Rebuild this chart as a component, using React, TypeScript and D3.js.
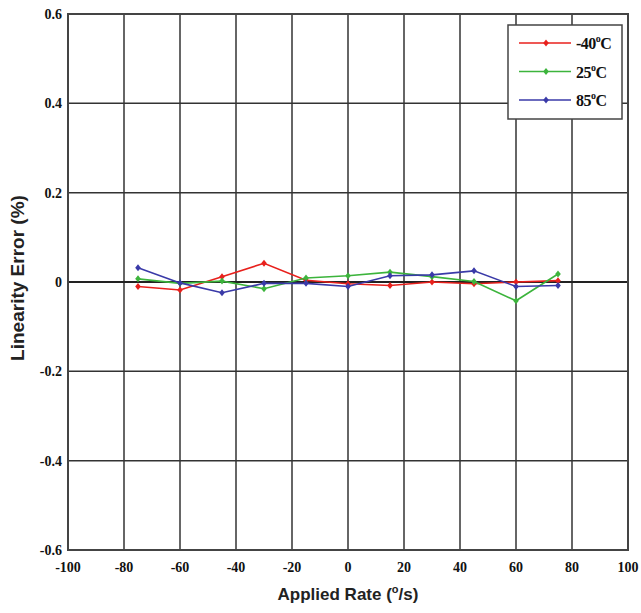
import React from "react";
import * as d3 from "d3";

const rates = [-75, -60, -45, -30, -15, 0, 15, 30, 45, 60, 75];
const errM40 = [-0.01, -0.018, 0.012, 0.042, 0.004, -0.004, -0.008, 0.0, -0.004, 0.0, 0.003];
const err25 = [0.007, -0.003, 0.002, -0.015, 0.009, 0.014, 0.022, 0.012, 0.001, -0.042, 0.018];
const err85 = [0.032, -0.002, -0.024, -0.003, -0.003, -0.01, 0.014, 0.016, 0.025, -0.01, -0.008];
const seriesNames = ["-40", "25", "85"];
const seriesColors = ["#e8201c", "#3cb43c", "#3a3aa8"];
const xTicks = [-100, -80, -60, -40, -20, 0, 20, 40, 60, 80, 100];
const yTicks = [-0.6, -0.4, -0.2, 0, 0.2, 0.4, 0.6];

const W = 641, H = 613;
const M = { left: 68, right: 628, top: 14, bottom: 550 };

export default function App() {
  const x = d3.scaleLinear().domain([-100, 100]).range([M.left, M.right]);
  const y = d3.scaleLinear().domain([-0.6, 0.6]).range([M.bottom, M.top]);
  const line = d3.line<[number, number]>().x((d) => x(d[0])).y((d) => y(d[1]));
  const allSeries = [errM40, err25, err85];
  const diamond = (cx: number, cy: number, r = 3.5) =>
    `M${cx},${cy - r}L${cx + r * 0.8},${cy}L${cx},${cy + r}L${cx - r * 0.8},${cy}Z`;
  const tickFont = "'Liberation Serif', 'Times New Roman', serif";
  const titleFont = "'Liberation Sans Narrow', 'Arial Narrow', 'Liberation Sans', Arial, sans-serif";
  const fmtY = (v: number) => (Math.abs(v) < 1e-9 ? "0" : v.toFixed(1));
  const legX = 508, legY = 25, legW = 114, legH = 94;
  return (
    <svg width={W} height={H} style={{ position: "absolute", left: 0, top: 0, background: "#fff" }}>
      {xTicks.map((t) => (
        <line key={"gx" + t} x1={x(t)} x2={x(t)} y1={M.top} y2={M.bottom} stroke="#333" strokeWidth={1.5} />
      ))}
      {yTicks.map((t) => (
        <line key={"gy" + t} x1={M.left} x2={M.right} y1={y(t)} y2={y(t)} stroke={t === 0 ? "#222" : "#333"} strokeWidth={t === 0 ? 2 : 1.5} />
      ))}
      <rect x={M.left} y={M.top} width={M.right - M.left} height={M.bottom - M.top} fill="none" stroke="#444" strokeWidth={2} />
      {yTicks.map((t) => (
        <text key={"ly" + t} x={M.left - 6} y={y(t)} dy="0.35em" textAnchor="end" fontFamily={tickFont} fontWeight="bold" fontSize={14} fill="#111">
          {fmtY(t)}
        </text>
      ))}
      {xTicks.map((t) => (
        <text key={"lx" + t} x={x(t)} y={M.bottom + 17} dy="0.35em" textAnchor="middle" fontFamily={tickFont} fontWeight="bold" fontSize={14} fill="#111">
          {String(t)}
        </text>
      ))}
      {allSeries.map((vals, i) => {
        const pts: [number, number][] = rates.map((r, j) => [r, vals[j]]);
        return (
          <g key={"s" + i}>
            <path d={line(pts) || ""} fill="none" stroke={seriesColors[i]} strokeWidth={1.6} />
            {pts.map((p, j) => (
              <path key={j} d={diamond(x(p[0]), y(p[1]))} fill={seriesColors[i]} />
            ))}
          </g>
        );
      })}
      <rect x={legX} y={legY} width={legW} height={legH} fill="#fff" stroke="#444" strokeWidth={1.5} />
      {seriesNames.map((n, i) => {
        const ly = legY + 18 + i * 28.5;
        return (
          <g key={"lg" + i}>
            <line x1={legX + 11} x2={legX + 63} y1={ly} y2={ly} stroke={seriesColors[i]} strokeWidth={1.6} />
            <path d={diamond(legX + 38, ly)} fill={seriesColors[i]} />
            <text x={legX + 68} y={ly + 6} fontFamily={tickFont} fontWeight="bold" fontSize={16} fill="#111" letterSpacing={-0.5}>
              {n}
              <tspan dy={-7} fontSize={10}>o</tspan>
              <tspan dy={7}>C</tspan>
            </text>
          </g>
        );
      })}
      <text x={(M.left + M.right) / 2} y={600} textAnchor="middle" fontFamily={titleFont} fontWeight="bold" fontSize={17} fill="#222">
        Applied Rate (<tspan dy={-7} fontSize={11}>o</tspan>
        <tspan dy={7}>/s)</tspan>
      </text>
      <text transform={`translate(24, ${y(0) - 4}) rotate(-90)`} textAnchor="middle" fontFamily="'Liberation Sans', Arial, sans-serif" fontWeight="bold" fontSize={19} fill="#222">
        Linearity Error (%)
      </text>
    </svg>
  );
}
